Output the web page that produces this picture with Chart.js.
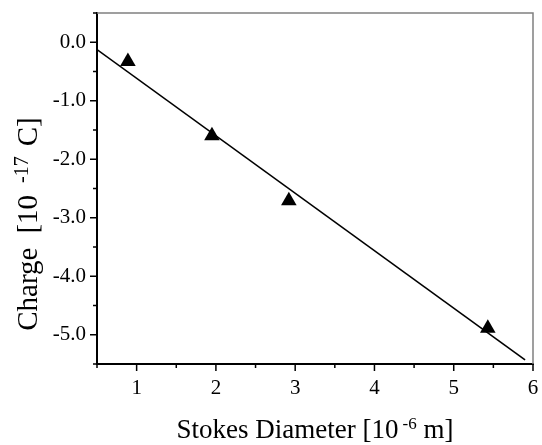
<!DOCTYPE html>
<html>
<head>
<meta charset="utf-8">
<script src="https://cdn.jsdelivr.net/npm/chart.js@4.4.1/dist/chart.umd.min.js"></script>
<style>
  html, body { margin: 0; padding: 0; background: #fff; }
  #wrap { width: 542px; height: 445px; }
</style>
</head>
<body>
<div id="wrap"><canvas id="chart"></canvas></div>
<script>
// measured points (Stokes diameter vs charge)
const diameters = [0.89, 1.95, 2.92, 5.43];
const charges = [-0.33, -1.60, -2.71, -4.89];

// linear fit line end points
const fitX = [0.5, 5.9];
const fitY = [-0.125, -5.43];

const xMinor = [0.5, 1.5, 2.5, 3.5, 4.5, 5.5];
const xMajor = [1, 2, 3, 4, 5, 6];
const yMinor = [0.5, -0.5, -1.5, -2.5, -3.5, -4.5, -5.5];
const yMajor = [0, -1, -2, -3, -4, -5];

// title pieces: text, superscript?, gap before
const xTitle = [['Stokes Diameter [10', false, 0], ['-6', true, 4], [' m]', false, 0]];
const yTitle = [['Charge', false, 0], ['[10', false, 14], ['-17', true, 12], ['C]', false, 10]];

const serif = "'Liberation Serif', 'Times New Roman', serif";

// draws a title with superscripts, centered on 0 of the current transform
function drawRich(ctx, parts, size, supSize, baseline) {
  const widths = parts.map(p => {
    ctx.font = (p[1] ? supSize : size) + 'px ' + serif;
    return ctx.measureText(p[0]).width;
  });
  let total = 0;
  parts.forEach((p, i) => { total += p[2] + widths[i]; });
  let x = -total / 2;
  ctx.textAlign = 'left';
  ctx.textBaseline = 'alphabetic';
  parts.forEach((p, i) => {
    x += p[2];
    ctx.font = (p[1] ? supSize : size) + 'px ' + serif;
    ctx.fillText(p[0], x, p[1] ? baseline - size * 0.32 : baseline);
    x += widths[i];
  });
}

const axisDecor = {
  id: 'axisDecor',
  afterDraw(chart) {
    const ctx = chart.ctx;
    const a = chart.chartArea;
    const x = chart.scales.x, y = chart.scales.y;
    ctx.save();
    // thin grey frame on top and right
    ctx.strokeStyle = '#808080';
    ctx.lineWidth = 1.5;
    ctx.beginPath();
    ctx.moveTo(a.left, a.top);
    ctx.lineTo(a.right, a.top);
    ctx.lineTo(a.right, a.bottom);
    ctx.stroke();

    ctx.strokeStyle = '#000';
    ctx.lineWidth = 1.5;
    ctx.beginPath();
    xMajor.forEach(v => { const p = x.getPixelForValue(v); ctx.moveTo(p, a.bottom); ctx.lineTo(p, a.bottom + 7); });
    xMinor.forEach(v => { const p = x.getPixelForValue(v); ctx.moveTo(p, a.bottom); ctx.lineTo(p, a.bottom + 4); });
    yMajor.forEach(v => { const p = y.getPixelForValue(v); ctx.moveTo(a.left, p); ctx.lineTo(a.left - 7, p); });
    yMinor.forEach(v => { const p = y.getPixelForValue(v); ctx.moveTo(a.left, p); ctx.lineTo(a.left - 4, p); });
    ctx.stroke();

    ctx.fillStyle = '#000';
    // x title
    ctx.save();
    ctx.translate((a.left + a.right) / 2, 0);
    drawRich(ctx, xTitle, 27, 17, 438);
    ctx.restore();
    // y title
    ctx.save();
    ctx.translate(0, 224);
    ctx.rotate(-Math.PI / 2);
    drawRich(ctx, yTitle, 29, 20, 37);
    ctx.restore();
    ctx.restore();
  }
};

const noPad = s => { s.paddingTop = 0; s.paddingBottom = 0; s.paddingLeft = 0; s.paddingRight = 0; };

new Chart(document.getElementById('chart'), {
  type: 'scatter',
  data: {
    datasets: [
      {
        label: 'fit',
        data: fitX.map((v, i) => ({ x: v, y: fitY[i] })),
        showLine: true,
        borderColor: '#000',
        borderWidth: 1.6,
        pointRadius: 0,
        order: 2
      },
      {
        label: 'measured',
        data: diameters.map((v, i) => ({ x: v, y: charges[i] })),
        pointStyle: 'triangle',
        pointRadius: 9,
        backgroundColor: '#000',
        borderColor: '#000',
        borderWidth: 0,
        order: 1
      }
    ]
  },
  options: {
    responsive: true,
    maintainAspectRatio: false,
    animation: false,
    layout: { padding: { left: 0, top: 13, right: 9, bottom: 0 } },
    plugins: { legend: { display: false }, tooltip: { enabled: false } },
    scales: {
      x: {
        type: 'linear',
        min: 0.5,
        max: 6,
        afterBuildTicks: s => { s.ticks = xMajor.map(v => ({ value: v })); },
        afterFit: s => { s.height = 81; noPad(s); },
        grid: { display: false, drawTicks: false },
        border: { display: true, color: '#000', width: 2 },
        ticks: {
          padding: 12,
          color: '#000',
          font: { family: serif, size: 21 }
        }
      },
      y: {
        type: 'linear',
        min: -5.5,
        max: 0.5,
        afterBuildTicks: s => { s.ticks = yMajor.map(v => ({ value: v })); },
        afterFit: s => { s.width = 97; noPad(s); },
        grid: { display: false, drawTicks: false },
        border: { display: true, color: '#000', width: 2 },
        ticks: {
          padding: 11,
          color: '#000',
          font: { family: serif, size: 21 },
          callback: v => v.toFixed(1)
        }
      }
    }
  },
  plugins: [axisDecor]
});
</script>
</body>
</html>
